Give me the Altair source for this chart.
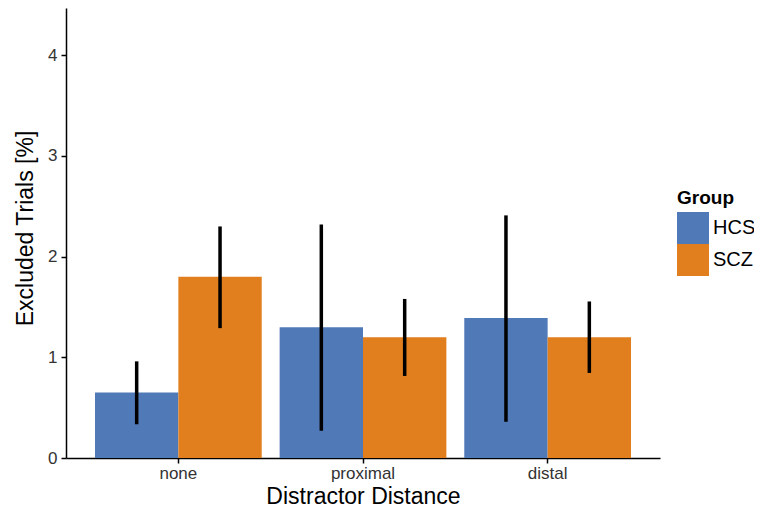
import altair as alt
import pandas as pd

distances = ["none", "none", "proximal", "proximal", "distal", "distal"]
groups = ["HCS", "SCZ", "HCS", "SCZ", "HCS", "SCZ"]
means = [0.65, 1.80, 1.30, 1.20, 1.39, 1.20]
err_low = [0.335, 1.29, 0.27, 0.815, 0.36, 0.845]
err_high = [0.96, 2.30, 2.32, 1.58, 2.41, 1.555]

df = pd.DataFrame({
    "Distance": distances,
    "Group": groups,
    "Mean": means,
    "Low": err_low,
    "High": err_high,
})

order = ["none", "proximal", "distal"]
font = "Liberation Sans"

x_enc = alt.X(
    "Distance:N",
    sort=order,
    scale=alt.Scale(paddingInner=0.097, paddingOuter=0.157),
    axis=alt.Axis(
        title="Distractor Distance",
        titleFontSize=23,
        titleFontWeight="normal",
        titleColor="black",
        titleFont=font,
        titlePadding=4,
        labelFontSize=17,
        labelFont=font,
        labelColor="#333333",
        labelAngle=0,
        labelPadding=2,
        tickSize=5,
        tickColor="black",
        domainColor="black",
        domainWidth=1.5,
        tickWidth=1.5,
    ),
)

xoff = alt.XOffset("Group:N", sort=["HCS", "SCZ"], scale=alt.Scale(paddingInner=0, paddingOuter=0))

y_scale = alt.Scale(domain=[0, 4.47], nice=False, zero=True)

bars = alt.Chart(df).mark_bar().encode(
    x=x_enc,
    xOffset=xoff,
    y=alt.Y(
        "Mean:Q",
        scale=y_scale,
        axis=alt.Axis(
            title="Excluded Trials [%]",
            values=[0, 1, 2, 3, 4],
            format="d",
            grid=False,
            titleFontSize=23,
            titleFontWeight="normal",
            titleColor="black",
            titleFont=font,
            titleX=-29,
            titleY=220,
            titleAlign="center",
            titleBaseline="bottom",
            titleAngle=270,
            labelFontSize=17,
            labelFont=font,
            labelColor="#333333",
            labelPadding=4,
            tickSize=5,
            tickColor="black",
            domainColor="black",
            domainWidth=1.5,
            tickWidth=1.5,
        ),
    ),
    color=alt.Color(
        "Group:N",
        sort=["HCS", "SCZ"],
        scale=alt.Scale(domain=["HCS", "SCZ"], range=["#5079B8", "#E17E1E"]),
        legend=alt.Legend(
            title="Group",
            orient="none",
            legendX=611,
            legendY=181,
            titleFontSize=19,
            titleFont=font,
            titleFontWeight="bold",
            titleColor="black",
            titlePadding=4,
            labelFontSize=20,
            labelFont=font,
            labelColor="black",
            labelOffset=4,
            symbolType="square",
            symbolSize=1024,
            symbolStrokeWidth=0,
            symbolOpacity=1,
            rowPadding=0,
        ),
    ),
)

rules = alt.Chart(df).mark_rule(color="black", strokeWidth=3.5).encode(
    x=alt.X("Distance:N", sort=order, scale=alt.Scale(paddingInner=0.097, paddingOuter=0.157)),
    xOffset=xoff,
    y=alt.Y("Low:Q", scale=y_scale),
    y2="High:Q",
)

chart = (
    alt.layer(bars, rules)
    .properties(
        width=594,
        height=450,
        autosize=alt.AutoSizeParams(type="none"),
        padding={"left": 58, "top": 0, "right": 94, "bottom": 54},
    )
    .configure_view(stroke=None)
)

chart.save("out.html", embed_options={"renderer": "svg", "actions": False})
